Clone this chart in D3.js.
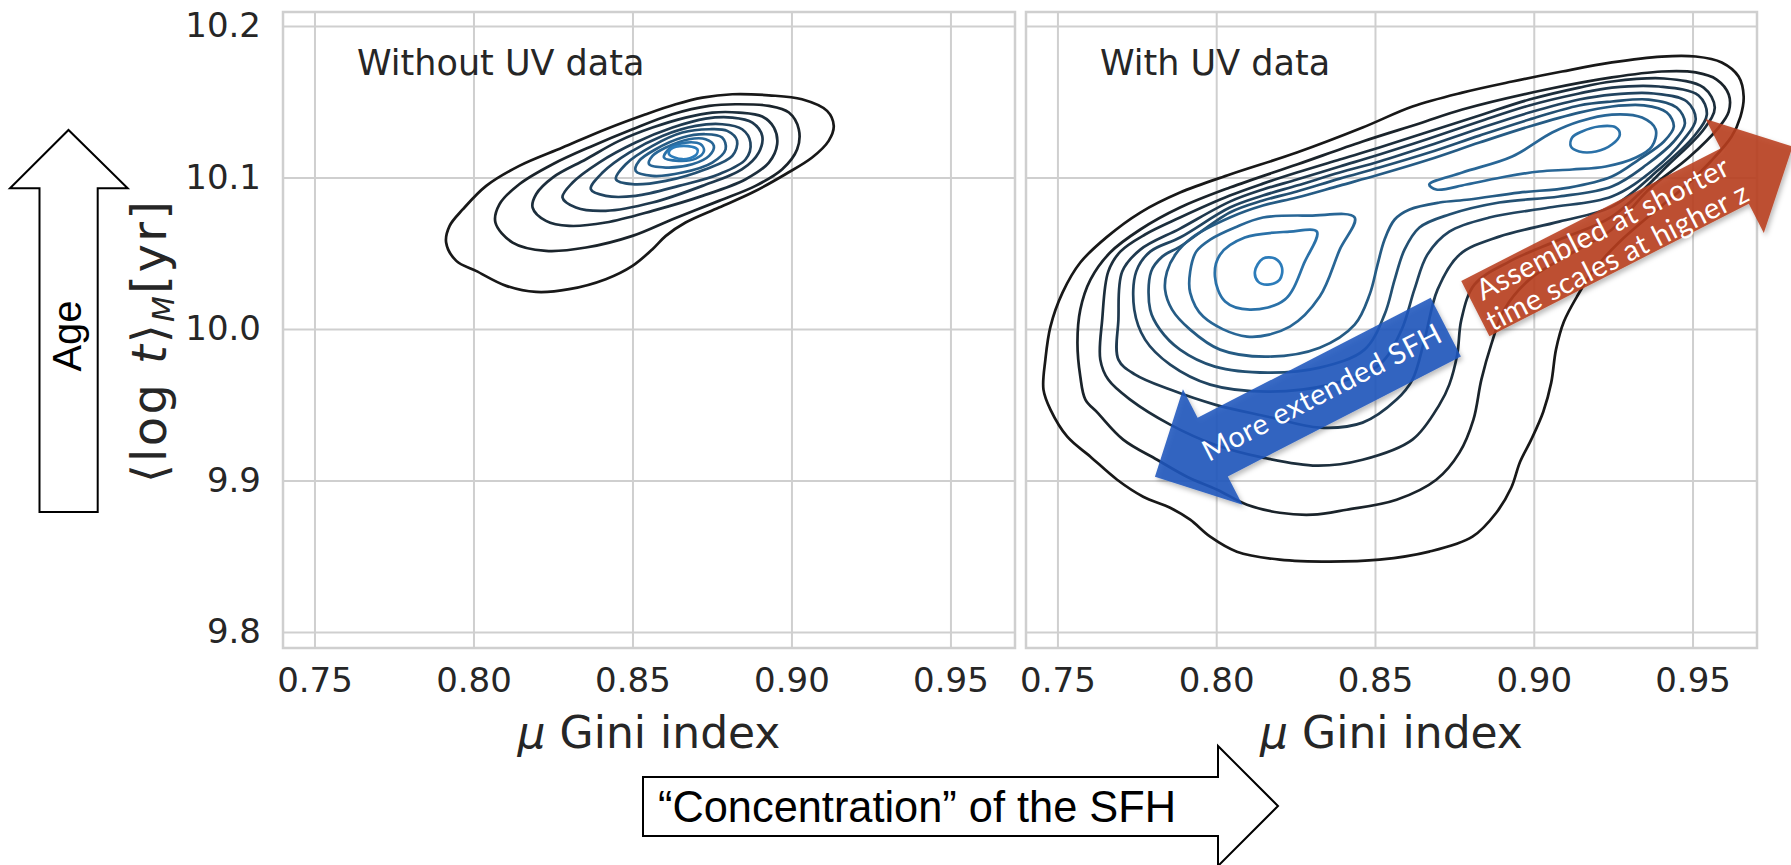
<!DOCTYPE html>
<html>
<head>
<meta charset="utf-8">
<script src="https://cdn.jsdelivr.net/npm/d3@7"></script>
<style>
  body { margin: 0; background: #fff; }
  svg { display: block; }
</style>
</head>
<body>
<svg id="chart"></svg>
<script>
// ---- data -------------------------------------------------------------
const xTicks = [0.75, 0.80, 0.85, 0.90, 0.95];
const yTicks = [9.8, 9.9, 10.0, 10.1, 10.2];
const panelTitles = ["Without UV data", "With UV data"];

// KDE contour lines, [gini, <log t>], outer level first
const noUvLevel = [0, 1, 2, 3, 4, 5, 6, 7, 8, 9];
const noUvRings = [
  [[0.7914,10.0571],[0.7946,10.0450],[0.8008,10.0384],[0.8103,10.0285],[0.8197,10.0245],[0.8301,10.0263],[0.8416,10.0329],[0.8500,10.0417],[0.8563,10.0527],[0.8605,10.0615],[0.8667,10.0703],[0.8772,10.0802],[0.8877,10.0901],[0.8981,10.1022],[0.9065,10.1132],[0.9117,10.1242],[0.9133,10.1341],[0.9112,10.1440],[0.9033,10.1517],[0.8929,10.1543],[0.8814,10.1550],[0.8720,10.1528],[0.8636,10.1484],[0.8542,10.1418],[0.8416,10.1319],[0.8280,10.1198],[0.8144,10.1077],[0.8040,10.0945],[0.7967,10.0791],[0.7925,10.0681]],
  [[0.8069,10.0703],[0.8123,10.0571],[0.8228,10.0516],[0.8354,10.0538],[0.8500,10.0615],[0.8626,10.0725],[0.8772,10.0846],[0.8887,10.0945],[0.8971,10.1055],[0.9018,10.1187],[0.9023,10.1319],[0.8992,10.1429],[0.8929,10.1473],[0.8824,10.1484],[0.8741,10.1473],[0.8626,10.1418],[0.8500,10.1319],[0.8374,10.1209],[0.8249,10.1088],[0.8144,10.0956],[0.8082,10.0824]],
  [[0.8186,10.0802],[0.8228,10.0714],[0.8301,10.0681],[0.8416,10.0703],[0.8563,10.0780],[0.8720,10.0879],[0.8856,10.0989],[0.8929,10.1099],[0.8955,10.1220],[0.8945,10.1330],[0.8908,10.1403],[0.8835,10.1429],[0.8751,10.1429],[0.8667,10.1396],[0.8563,10.1330],[0.8458,10.1242],[0.8354,10.1121],[0.8249,10.1000],[0.8197,10.0890]],
  [[0.8280,10.0868],[0.8322,10.0802],[0.8416,10.0780],[0.8563,10.0835],[0.8720,10.0945],[0.8845,10.1055],[0.8897,10.1165],[0.8908,10.1275],[0.8877,10.1363],[0.8814,10.1396],[0.8730,10.1389],[0.8626,10.1330],[0.8510,10.1231],[0.8395,10.1099],[0.8312,10.0967]],
  [[0.8369,10.0923],[0.8416,10.0879],[0.8510,10.0879],[0.8646,10.0945],[0.8772,10.1022],[0.8856,10.1121],[0.8871,10.1231],[0.8845,10.1319],[0.8782,10.1352],[0.8699,10.1341],[0.8594,10.1275],[0.8490,10.1165],[0.8406,10.1033]],
  [[0.8448,10.0989],[0.8500,10.0956],[0.8605,10.0978],[0.8730,10.1055],[0.8814,10.1143],[0.8829,10.1242],[0.8798,10.1308],[0.8741,10.1319],[0.8657,10.1297],[0.8563,10.1209],[0.8479,10.1088]],
  [[0.8510,10.1044],[0.8563,10.1011],[0.8657,10.1033],[0.8751,10.1099],[0.8793,10.1187],[0.8782,10.1264],[0.8730,10.1286],[0.8657,10.1264],[0.8573,10.1187],[0.8521,10.1110]],
  [[0.8552,10.1088],[0.8605,10.1066],[0.8688,10.1088],[0.8741,10.1143],[0.8756,10.1209],[0.8730,10.1253],[0.8678,10.1253],[0.8605,10.1198],[0.8563,10.1143]],
  [[0.8599,10.1132],[0.8646,10.1110],[0.8699,10.1125],[0.8725,10.1176],[0.8714,10.1220],[0.8667,10.1231],[0.8620,10.1198]],
  [[0.8615,10.1154],[0.8657,10.1121],[0.8699,10.1147],[0.8704,10.1187],[0.8662,10.1209],[0.8620,10.1187]]
];

const uvLevel = [0, 1, 2, 3, 4, 5, 6, 7, 7, 8, 8, 9];
const uvRings = [
  [[0.7456,9.9600],[0.7462,9.9798],[0.7478,10.0016],[0.7516,10.0240],[0.7572,10.0439],[0.7657,10.0610],[0.7761,10.0769],[0.7886,10.0901],[0.8043,10.1020],[0.8254,10.1165],[0.8461,10.1330],[0.8618,10.1469],[0.8775,10.1561],[0.8932,10.1634],[0.9089,10.1700],[0.9246,10.1760],[0.9403,10.1799],[0.9510,10.1799],[0.9592,10.1760],[0.9645,10.1667],[0.9661,10.1535],[0.9651,10.1403],[0.9623,10.1271],[0.9557,10.1106],[0.9472,10.0934],[0.9369,10.0756],[0.9268,10.0571],[0.9190,10.0392],[0.9136,10.0214],[0.9095,10.0049],[0.9070,9.9864],[0.9055,9.9646],[0.9030,9.9454],[0.8992,9.9270],[0.8957,9.9124],[0.8929,9.8952],[0.8882,9.8787],[0.8807,9.8629],[0.8671,9.8530],[0.8514,9.8477],[0.8357,9.8464],[0.8200,9.8477],[0.8065,9.8530],[0.7981,9.8629],[0.7918,9.8741],[0.7855,9.8820],[0.7770,9.8893],[0.7688,9.9005],[0.7604,9.9157],[0.7531,9.9289],[0.7478,9.9468]],
  [[0.7588,9.9534],[0.7572,9.9686],[0.7563,9.9910],[0.7572,10.0128],[0.7604,10.0326],[0.7666,10.0505],[0.7761,10.0657],[0.7886,10.0802],[0.8043,10.0934],[0.8254,10.1086],[0.8461,10.1238],[0.8640,10.1357],[0.8775,10.1449],[0.9039,10.1581],[0.9246,10.1661],[0.9403,10.1700],[0.9510,10.1694],[0.9576,10.1647],[0.9614,10.1548],[0.9614,10.1436],[0.9582,10.1330],[0.9488,10.1132],[0.9362,10.0921],[0.9246,10.0657],[0.9111,10.0491],[0.8986,10.0326],[0.8907,10.0128],[0.8866,9.9897],[0.8835,9.9666],[0.8810,9.9402],[0.8766,9.9184],[0.8693,9.9005],[0.8568,9.8873],[0.8411,9.8807],[0.8304,9.8774],[0.8200,9.8787],[0.8097,9.8840],[0.8003,9.8939],[0.7908,9.9025],[0.7814,9.9137],[0.7707,9.9270],[0.7626,9.9448]],
  [[0.7635,9.9798],[0.7641,10.0062],[0.7660,10.0379],[0.7698,10.0511],[0.7776,10.0624],[0.7886,10.0736],[0.8043,10.0881],[0.8147,10.0960],[0.8254,10.1033],[0.8389,10.1119],[0.8514,10.1198],[0.8671,10.1304],[0.8829,10.1410],[0.8986,10.1515],[0.9143,10.1594],[0.9246,10.1634],[0.9410,10.1654],[0.9535,10.1594],[0.9570,10.1462],[0.9535,10.1317],[0.9425,10.1086],[0.9246,10.0742],[0.9080,10.0590],[0.8923,10.0445],[0.8813,10.0293],[0.8772,10.0062],[0.8759,9.9831],[0.8734,9.9633],[0.8703,9.9501],[0.8618,9.9270],[0.8461,9.9137],[0.8317,9.9098],[0.8147,9.9151],[0.7996,9.9236],[0.7855,9.9369],[0.7729,9.9534],[0.7660,9.9666]],
  [[0.7692,9.9798],[0.7692,10.0062],[0.7704,10.0379],[0.7761,10.0524],[0.7886,10.0663],[0.8043,10.0841],[0.8147,10.0921],[0.8254,10.0987],[0.8389,10.1073],[0.8514,10.1152],[0.8671,10.1258],[0.8829,10.1370],[0.8986,10.1476],[0.9143,10.1555],[0.9246,10.1594],[0.9394,10.1601],[0.9519,10.1542],[0.9545,10.1416],[0.9504,10.1271],[0.9394,10.1053],[0.9246,10.0808],[0.9080,10.0709],[0.8891,10.0610],[0.8766,10.0491],[0.8697,10.0260],[0.8656,9.9930],[0.8618,9.9666],[0.8568,9.9534],[0.8461,9.9382],[0.8326,9.9349],[0.8163,9.9421],[0.7996,9.9501],[0.7855,9.9600],[0.7745,9.9699]],
  [[0.7742,10.0128],[0.7748,10.0379],[0.7792,10.0511],[0.7886,10.0604],[0.8043,10.0802],[0.8147,10.0881],[0.8254,10.0947],[0.8389,10.1033],[0.8514,10.1106],[0.8671,10.1211],[0.8829,10.1324],[0.8986,10.1429],[0.9143,10.1515],[0.9246,10.1548],[0.9378,10.1555],[0.9482,10.1502],[0.9510,10.1383],[0.9472,10.1251],[0.9378,10.1053],[0.9246,10.0875],[0.9048,10.0802],[0.8860,10.0736],[0.8734,10.0643],[0.8665,10.0491],[0.8624,10.0260],[0.8584,9.9996],[0.8514,9.9765],[0.8357,9.9633],[0.8163,9.9587],[0.7981,9.9633],[0.7855,9.9765],[0.7776,9.9930]],
  [[0.7792,10.0128],[0.7795,10.0379],[0.7830,10.0478],[0.7886,10.0544],[0.8043,10.0769],[0.8147,10.0848],[0.8254,10.0908],[0.8389,10.0993],[0.8514,10.1066],[0.8671,10.1165],[0.8829,10.1277],[0.8986,10.1383],[0.9143,10.1476],[0.9246,10.1502],[0.9362,10.1515],[0.9450,10.1462],[0.9476,10.1357],[0.9441,10.1238],[0.9356,10.1086],[0.9246,10.0941],[0.9080,10.0875],[0.8891,10.0835],[0.8734,10.0756],[0.8640,10.0670],[0.8593,10.0524],[0.8562,10.0326],[0.8530,10.0095],[0.8467,9.9864],[0.8326,9.9745],[0.8163,9.9712],[0.7996,9.9752],[0.7886,9.9864],[0.7823,9.9996]],
  [[0.7839,10.0260],[0.7845,10.0379],[0.7871,10.0491],[0.7924,10.0604],[0.8043,10.0736],[0.8147,10.0815],[0.8254,10.0868],[0.8389,10.0947],[0.8514,10.1020],[0.8671,10.1119],[0.8829,10.1231],[0.8986,10.1337],[0.9143,10.1429],[0.9246,10.1469],[0.9347,10.1476],[0.9419,10.1429],[0.9441,10.1337],[0.9410,10.1238],[0.9331,10.1119],[0.9246,10.1007],[0.9111,10.0934],[0.8954,10.0901],[0.8797,10.0855],[0.8703,10.0835],[0.8609,10.0789],[0.8562,10.0723],[0.8530,10.0590],[0.8508,10.0425],[0.8483,10.0227],[0.8436,10.0029],[0.8326,9.9877],[0.8163,9.9818],[0.8012,9.9864],[0.7918,9.9996],[0.7861,10.0128]],
  [[0.7918,10.0379],[0.7937,10.0511],[0.7981,10.0590],[0.8059,10.0670],[0.8147,10.0736],[0.8295,10.0749],[0.8436,10.0736],[0.8389,10.0524],[0.8326,10.0214],[0.8232,10.0016],[0.8097,9.9950],[0.7959,10.0082],[0.7918,10.0240]],
  [[0.8671,10.0954],[0.8775,10.1033],[0.8932,10.1139],[0.9058,10.1297],[0.9143,10.1370],[0.9246,10.1416],[0.9341,10.1396],[0.9384,10.1317],[0.9372,10.1205],[0.9322,10.1132],[0.9227,10.1073],[0.9121,10.1053],[0.9017,10.1040],[0.8913,10.1007],[0.8788,10.0954],[0.8693,10.0921]],
  [[0.7996,10.0346],[0.8012,10.0491],[0.8090,10.0604],[0.8232,10.0643],[0.8317,10.0643],[0.8279,10.0445],[0.8216,10.0194],[0.8106,10.0128],[0.8028,10.0181]],
  [[0.9117,10.1205],[0.9143,10.1172],[0.9196,10.1172],[0.9246,10.1218],[0.9271,10.1284],[0.9259,10.1330],[0.9205,10.1337],[0.9152,10.1304],[0.9121,10.1264]],
  [[0.8122,10.0379],[0.8132,10.0313],[0.8163,10.0293],[0.8200,10.0326],[0.8207,10.0406],[0.8185,10.0465],[0.8147,10.0465]]
];

// annotation arrows on the right panel (tail centre, tip), in data units
const blueArrow = { tail: [0.8723, 10.0013], tip: [0.7807, 9.9024], text: ["More extended SFH"] };
const redArrow = { tail: [0.8816, 10.0135], tip: [0.9815, 10.1205], text: ["Assembled at shorter", "time scales at higher z"] };

// ---- layout -----------------------------------------------------------
const W = 1791, H = 865;
const frameTop = 12, frameBottom = 648;
const panelX = [[283, 1015], [1026, 1757]];
const xDomain = [0.7401, 0.9703];
const yDomain = [9.7894, 10.2093];
const ink = "#262626";
const gridColor = "#cfcfcf";

const svg = d3.select("#chart").attr("width", W).attr("height", H);

const y = d3.scaleLinear().domain(yDomain).range([frameBottom, frameTop]);
const xs = panelX.map(r => d3.scaleLinear().domain(xDomain).range(r));
const levelColor = i => d3.interpolateRgb("#181818", "#2c7cba")(i / 9);

const defs = svg.append("defs");
const shadow = defs.append("filter").attr("id", "shadow")
  .attr("x", "-20%").attr("y", "-20%").attr("width", "140%").attr("height", "140%");
shadow.append("feDropShadow").attr("dx", 2).attr("dy", 3).attr("stdDeviation", 2.5)
  .attr("flood-color", "#000").attr("flood-opacity", 0.3);

xs.forEach((x, p) => {
  const g = svg.append("g");
  const h = frameBottom - frameTop;
  const w = panelX[p][1] - panelX[p][0];

  // x grid + tick labels
  const ax = g.append("g")
    .attr("transform", `translate(0,${frameBottom})`)
    .call(d3.axisBottom(x).tickValues(xTicks).tickSize(-h).tickPadding(20)
      .tickFormat(d3.format(".2f")));
  // y grid (+ labels only on the first panel)
  const ay = g.append("g")
    .attr("transform", `translate(${panelX[p][0]},0)`)
    .call(d3.axisLeft(y).tickValues(yTicks).tickSize(-w).tickPadding(22)
      .tickFormat(p === 0 ? d3.format(".1f") : () => ""));

  [ax, ay].forEach(a => {
    a.select(".domain").remove();
    a.selectAll(".tick line").attr("stroke", gridColor).attr("stroke-width", 2);
    a.selectAll(".tick text").attr("fill", ink)
      .style("font-family", "'DejaVu Sans', sans-serif").style("font-size", "34px");
  });

  g.append("rect")
    .attr("x", panelX[p][0]).attr("y", frameTop)
    .attr("width", w).attr("height", h)
    .attr("fill", "none").attr("stroke", gridColor).attr("stroke-width", 2.5);

  // contours
  const rings = p === 0 ? noUvRings : uvRings;
  const levels = p === 0 ? noUvLevel : uvLevel;
  const line = d3.line().x(d => x(d[0])).y(d => y(d[1]))
    .curve(d3.curveCatmullRomClosed.alpha(0.5));
  g.append("g").selectAll("path")
    .data(rings)
    .join("path")
    .attr("d", line)
    .attr("fill", "none")
    .attr("stroke", (d, i) => levelColor(levels[i]))
    .attr("stroke-width", 2.7);

  g.append("text")
    .attr("x", panelX[p][0] + 74).attr("y", 75)
    .attr("fill", ink)
    .style("font-family", "'DejaVu Sans', sans-serif").style("font-size", "35px")
    .text(panelTitles[p]);

  const xl = g.append("text")
    .attr("x", (panelX[p][0] + panelX[p][1]) / 2).attr("y", 748)
    .attr("text-anchor", "middle").attr("fill", ink)
    .style("font-family", "'DejaVu Sans', sans-serif").style("font-size", "44px");
  xl.append("tspan").style("font-style", "italic").text("\u03bc");
  xl.append("tspan").text(" Gini index");
});

// y label
const yl = svg.append("text")
  .attr("transform", "translate(166,342) rotate(-90)")
  .attr("text-anchor", "middle").attr("fill", ink)
  .attr("textLength", 282).attr("lengthAdjust", "spacing")
  .style("font-family", "'DejaVu Sans', sans-serif").style("font-size", "48px");
yl.append("tspan").text("\u27e8log ");
yl.append("tspan").style("font-style", "italic").text("t");
yl.append("tspan").text("\u27e9");
yl.append("tspan").style("font-style", "italic").style("font-size", "30px").attr("dy", 8).text("M");
yl.append("tspan").attr("dy", -8).text("[yr]");

// arrows drawn from tail centre to tip
function arrowPoints(t, e, shaftHalf, headHalf, headLen) {
  const dx = e[0] - t[0], dy = e[1] - t[1];
  const len = Math.hypot(dx, dy);
  const ux = dx / len, uy = dy / len, nx = -uy, ny = ux;
  const s = len - headLen;
  const P = (a, b) => [t[0] + ux * a + nx * b, t[1] + uy * a + ny * b];
  return [P(0, -shaftHalf), P(s, -shaftHalf), P(s, -headHalf), P(len, 0),
          P(s, headHalf), P(s, shaftHalf), P(0, shaftHalf)];
}

const xr = xs[1];
function drawArrow(a, fill, shaftHalf, headHalf, headLen, textAt, fontSize, lineOffsets) {
  const t = [xr(a.tail[0]), y(a.tail[1])];
  const e = [xr(a.tip[0]), y(a.tip[1])];
  svg.append("polygon")
    .attr("points", arrowPoints(t, e, shaftHalf, headHalf, headLen).map(p => p.join(",")).join(" "))
    .attr("fill", fill).attr("fill-opacity", 0.88)
    .attr("filter", "url(#shadow)");
  const len = Math.hypot(e[0] - t[0], e[1] - t[1]);
  const ux = (e[0] - t[0]) / len, uy = (e[1] - t[1]) / len;
  let ang = Math.atan2(uy, ux) * 180 / Math.PI;
  if (ang > 90) ang -= 180;
  if (ang < -90) ang += 180;
  const cx = t[0] + ux * textAt, cy = t[1] + uy * textAt;
  const tg = svg.append("text")
    .attr("transform", `translate(${cx},${cy}) rotate(${ang})`)
    .attr("text-anchor", "middle").attr("fill", "#fff")
    .style("font-family", "Lato, 'Open Sans', sans-serif").style("font-size", fontSize + "px")
    .style("letter-spacing", "0.5px");
  a.text.forEach((s, i) => {
    tg.append("tspan").attr("x", 0).attr("y", lineOffsets[i])
      .attr("dominant-baseline", "central").text(s);
  });
}
drawArrow(blueArrow, "#1f57bd", 33, 65, 65, 140, 29, [0]);
drawArrow(redArrow, "#b9401f", 31, 64, 65, 150, 29, [-15, 17]);

// "Age" arrow (outline) on the far left
const ageArrow = [[39.5, 512], [97.7, 512], [97.7, 188.3], [127.7, 188.3], [68.5, 130],
                  [10, 188.3], [39.5, 188.3]];
svg.append("polygon")
  .attr("points", ageArrow.map(p => p.join(",")).join(" "))
  .attr("fill", "#fff").attr("stroke", "#000").attr("stroke-width", 2);
svg.append("text")
  .attr("transform", "translate(81,336) rotate(-90)")
  .attr("text-anchor", "middle").attr("fill", "#000")
  .style("font-family", "'Liberation Sans', Arial, sans-serif").style("font-size", "40px")
  .text("Age");

// "Concentration" arrow at the bottom
const concArrow = [[643, 777], [1218, 777], [1218, 746], [1278, 806], [1218, 866],
                   [1218, 836], [643, 836]];
svg.append("polygon")
  .attr("points", concArrow.map(p => p.join(",")).join(" "))
  .attr("fill", "#fff").attr("stroke", "#000").attr("stroke-width", 2);
svg.append("text")
  .attr("x", 658).attr("y", 822)
  .attr("textLength", 518).attr("lengthAdjust", "spacingAndGlyphs")
  .attr("fill", "#000")
  .style("font-family", "'Liberation Sans', Arial, sans-serif").style("font-size", "44px")
  .text("\u201cConcentration\u201d of the SFH");
</script>
</body>
</html>
